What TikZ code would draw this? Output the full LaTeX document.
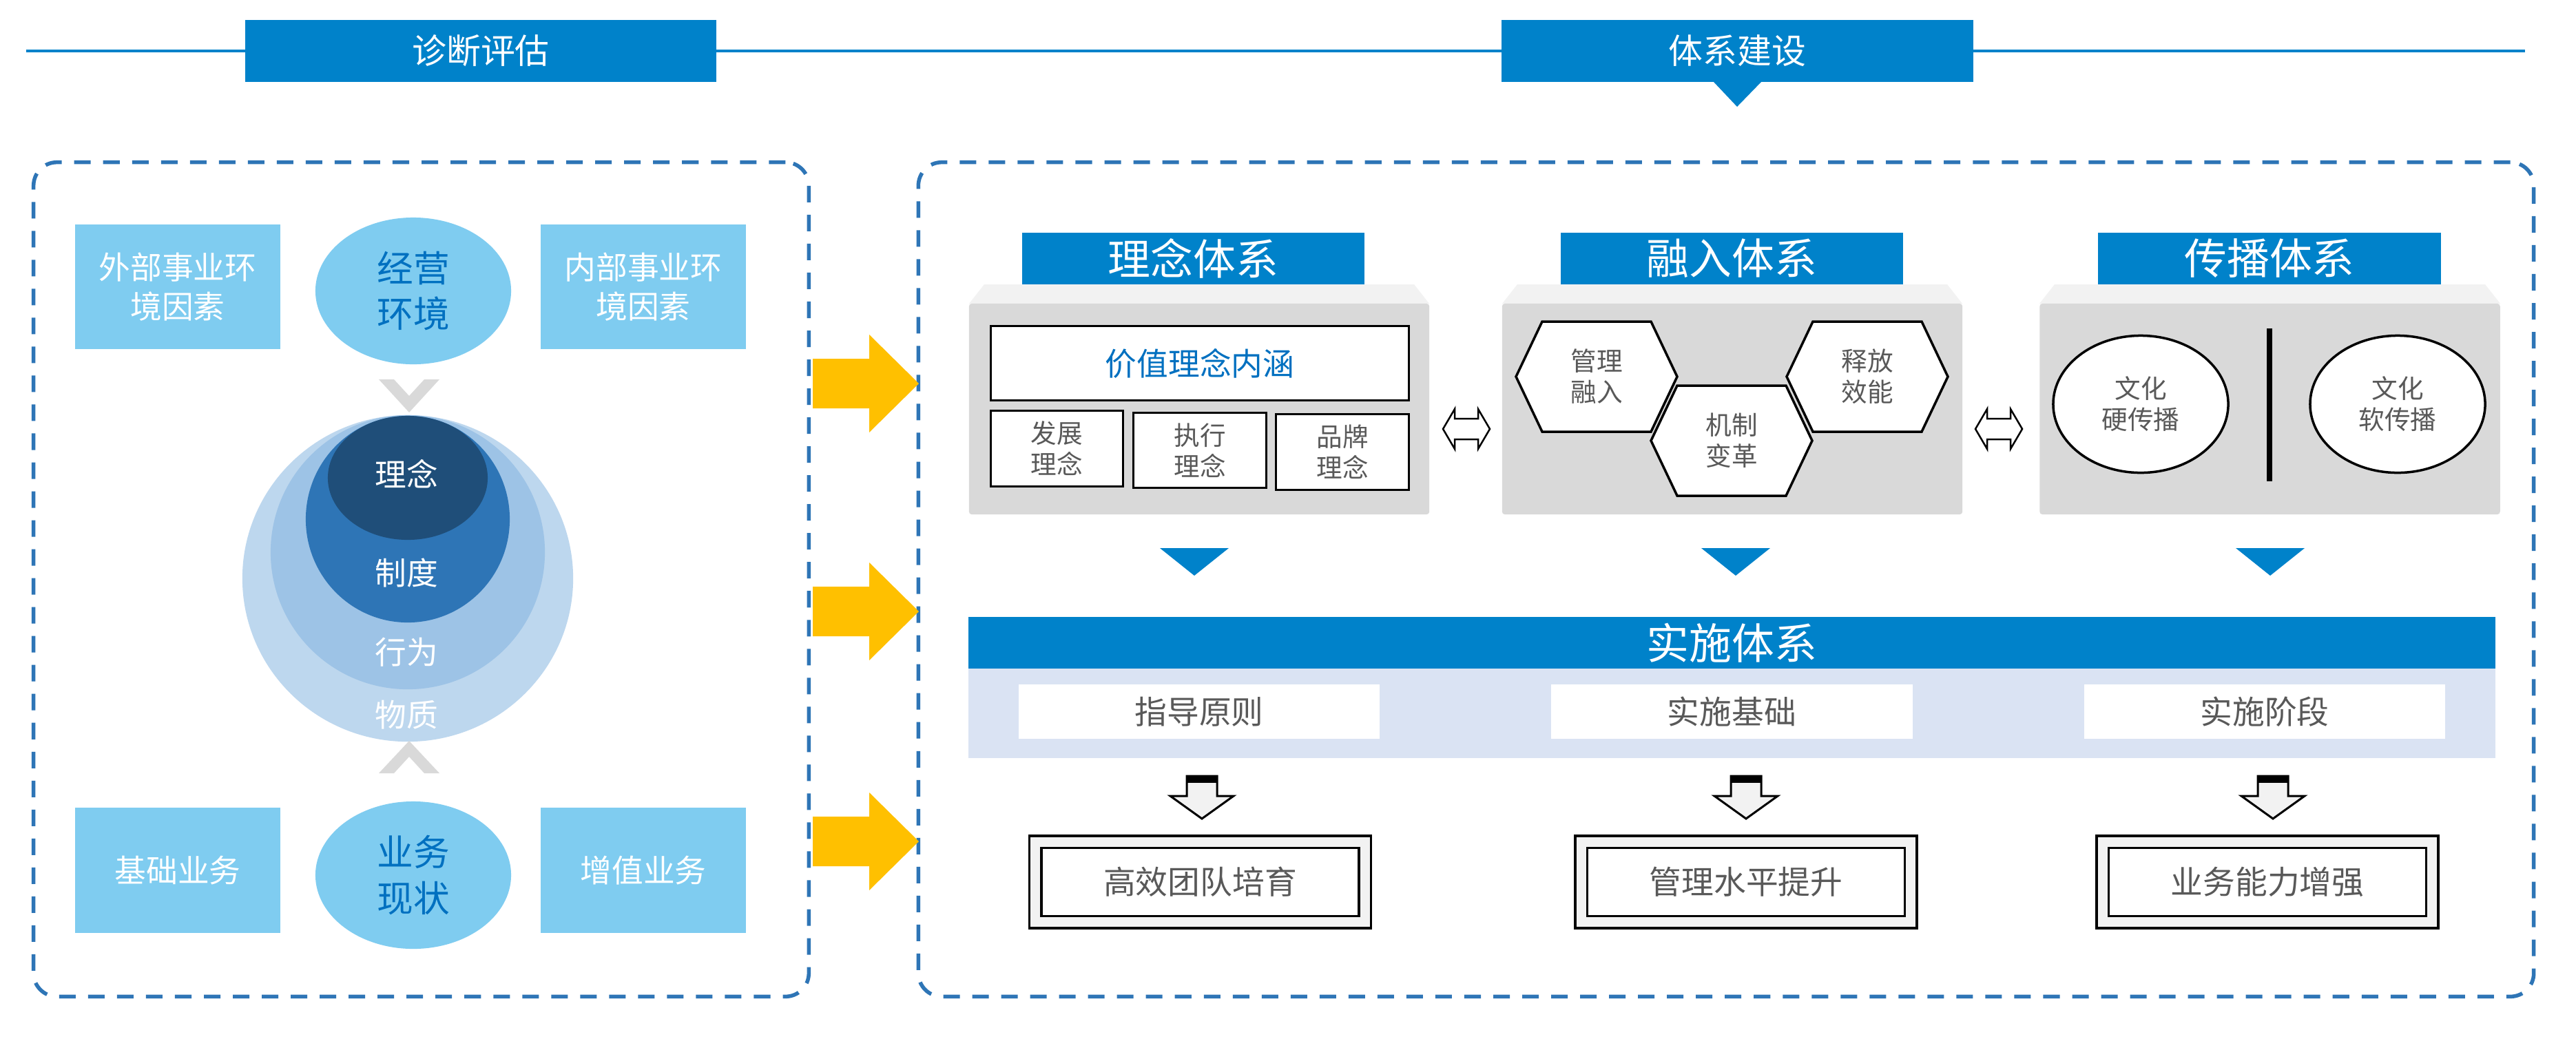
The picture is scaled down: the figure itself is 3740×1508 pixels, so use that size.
\documentclass[tikz,border=0pt]{standalone}
\usepackage{fontspec}
\setmainfont{Noto Sans CJK SC}
\usetikzlibrary{shapes.geometric}
\definecolor{hdrblue}{RGB}{0,130,202}
\definecolor{boxblue}{RGB}{127,204,240}
\definecolor{txtblue}{RGB}{0,112,192}
\definecolor{dashblue}{RGB}{46,117,182}
\definecolor{ringa}{RGB}{189,215,238}
\definecolor{ringb}{RGB}{157,195,230}
\definecolor{ringc}{RGB}{46,117,182}
\definecolor{ringd}{RGB}{31,78,121}
\definecolor{chevgray}{RGB}{217,217,217}
\definecolor{arrowyellow}{RGB}{255,192,0}
\definecolor{panelgray}{RGB}{217,217,217}
\definecolor{bevelgray}{RGB}{242,242,242}
\definecolor{barpale}{RGB}{218,227,243}
\definecolor{txtgray}{RGB}{89,89,89}

\begin{document}
\begin{tikzpicture}[x=0.01cm,y=-0.01cm,
	topbox/.style={fill=hdrblue,text=white,minimum width=6.84cm,minimum height=0.9cm,inner sep=0pt,font=\fontsize{14.2}{17}\selectfont},
	dashbox/.style={draw=dashblue,line width=0.055cm,dash pattern=on 0.24cm off 0.18cm,rounded corners=0.34cm,minimum height=12.11cm,inner sep=0pt},
	envbox/.style={fill=boxblue,text=white,minimum width=2.98cm,minimum height=1.81cm,align=center,inner sep=0pt,font=\fontsize{13}{16.2}\selectfont},
	envell/.style={ellipse,fill=boxblue,text=txtblue,minimum width=2.84cm,minimum height=2.13cm,align=center,inner sep=0pt,font=\fontsize{15}{18.8}\selectfont},
	ring/.style={ellipse,inner sep=0pt},
	ringtxt/.style={text=white,font=\fontsize{13}{16}\selectfont},
	chev/.style={fill=chevgray},
	goarrow/.style={fill=arrowyellow},
	syshead/.style={fill=hdrblue,text=white,minimum width=4.97cm,minimum height=0.75cm,inner sep=0pt,font=\fontsize{17.6}{20}\selectfont},
	bevel/.style={fill=bevelgray},
	panel/.style={fill=panelgray,minimum width=6.68cm,minimum height=3.06cm,rounded corners=0.04cm,inner sep=0pt},
	linebox/.style={draw,fill=white,line width=0.03cm,align=center,inner sep=0pt,text=txtgray,font=\fontsize{10.7}{12.8}\selectfont},
	hexline/.style={draw,fill=white,line width=0.035cm},
	smalltxt/.style={text=txtgray,align=center,font=\fontsize{10.7}{12.8}\selectfont},
	bothway/.style={draw,fill=white,line width=0.025cm},
	downtri/.style={fill=hdrblue},
	stepbar/.style={fill=hdrblue,text=white,minimum width=22.15cm,minimum height=0.75cm,inner sep=0pt,font=\fontsize{17.6}{20}\selectfont},
	palebar/.style={fill=barpale,minimum width=22.15cm,minimum height=1.3cm,inner sep=0pt},
	stagebox/.style={fill=white,text=txtgray,minimum width=5.24cm,minimum height=0.79cm,inner sep=0pt,font=\fontsize{13.3}{16}\selectfont},
	blockarrow/.style={draw,fill=bevelgray,line width=0.03cm},
	goalbox/.style={draw,double=bevelgray,double distance=0.14cm,line width=0.035cm,fill=white,minimum width=4.78cm,minimum height=1.165cm,inner sep=0pt,text=txtgray,font=\fontsize{13.3}{16}\selectfont}]
\useasboundingbox (0,0) rectangle (3740,1508);
\fill[white] (0,0) rectangle (3740,1508);

\coordinate (lineleft) at (38,74);
\coordinate (lineright) at (3666,74);
\draw[hdrblue,line width=0.04cm] (lineleft) -- (lineright);
\node[topbox] (diagh) at (698,74) {诊断评估};
\node[topbox] (buildh) at (2522.5,74) {体系建设};
\fill[downtri] (2488,119) -- (2557,119) -- (2522,155) -- cycle;

\node[dashbox,minimum width=11.25cm] (diag) at (611.5,841.5) {};
\node[dashbox,minimum width=23.44cm] (sys) at (2506,841.5) {};

\node[envbox] (outer) at (258,416.5) {外部事业环\\境因素};
\node[envell] (env) at (600,422.5) {经营\\环境};
\node[envbox] (inner) at (934,416.5) {内部事业环\\境因素};
\fill[chev] (550,551) -- (572,551) -- (594,575) -- (616,551) -- (638,551) -- (594,599) -- cycle;
\node[ring,fill=ringa,minimum width=4.8cm,minimum height=4.74cm] (matter) at (592,840) {};
\node[ring,fill=ringb,minimum width=3.98cm,minimum height=3.98cm] (act) at (592,802) {};
\node[ring,fill=ringc,minimum width=2.96cm,minimum height=3cm] (rule) at (592,754) {};
\node[ring,fill=ringd,minimum width=2.32cm,minimum height=1.8cm] (core) at (592,694) {};
\node[ringtxt] (corel) at (590,688) {理念};
\node[ringtxt] (rulel) at (590,832) {制度};
\node[ringtxt] (actl) at (590,947) {行为};
\node[ringtxt] (matterl) at (590,1038) {物质};
\fill[chev] (594,1076) -- (638,1123) -- (616,1123) -- (594,1099) -- (572,1123) -- (550,1123) -- cycle;
\node[envbox,minimum height=1.82cm] (basic) at (258,1264) {基础业务};
\node[envell,minimum height=2.14cm] (biz) at (600,1271) {业务\\现状};
\node[envbox,minimum height=1.82cm] (added) at (934,1264) {增值业务};

\fill[goarrow,shift={(0,557)}] (1180,-36) -- (1262,-36) -- (1262,-71) -- (1334,0) -- (1262,71) -- (1262,36) -- (1180,36) -- cycle;
\fill[goarrow,shift={(0,888)}] (1180,-36) -- (1262,-36) -- (1262,-71) -- (1334,0) -- (1262,71) -- (1262,36) -- (1180,36) -- cycle;
\fill[goarrow,shift={(0,1222)}] (1180,-36) -- (1262,-36) -- (1262,-71) -- (1334,0) -- (1262,71) -- (1262,36) -- (1180,36) -- cycle;

\node[syshead] (ideah) at (1732.5,375.5) {理念体系};
\node[syshead] (fuseh) at (2514.5,375.5) {融入体系};
\node[syshead] (spreadh) at (3295,375.5) {传播体系};
\fill[bevel] (1429,413) -- (2053,413) -- (2075,441) -- (1407,441) -- cycle;
\fill[bevel] (2203,413) -- (2827,413) -- (2849,441) -- (2181,441) -- cycle;
\fill[bevel] (2983,413) -- (3608,413) -- (3630,441) -- (2961,441) -- cycle;
\node[panel] (ideap) at (1741,594) {};
\node[panel] (fusep) at (2515,594) {};
\node[panel] (spreadp) at (3295.5,594) {};

\node[linebox,text=txtblue,minimum width=6.06cm,minimum height=1.07cm,font=\fontsize{13}{16}\selectfont] (value) at (1742,527.5) {价值理念内涵};
\node[linebox,minimum width=1.91cm,minimum height=1.09cm] (dev) at (1534.5,651.5) {发展\\理念};
\node[linebox,minimum width=1.92cm,minimum height=1.09cm] (exe) at (1742,654) {执行\\理念};
\node[linebox,minimum width=1.92cm,minimum height=1.09cm] (brand) at (1949,656.5) {品牌\\理念};

\draw[hexline] (2201,547) -- (2239,467) -- (2397,467) -- (2435,547) -- (2397,627) -- (2239,627) -- cycle;
\node[smalltxt] (manage) at (2318,547) {管理\\融入};
\draw[hexline] (2594,547) -- (2632,467) -- (2790,467) -- (2828,547) -- (2790,627) -- (2632,627) -- cycle;
\node[smalltxt] (release) at (2711,547) {释放\\效能};
\draw[hexline] (2397,640) -- (2435,560) -- (2593,560) -- (2631,640) -- (2593,720) -- (2435,720) -- cycle;
\node[smalltxt] (reform) at (2514,640) {机制\\变革};

\node[ellipse,linebox,line width=0.035cm,minimum width=2.54cm,minimum height=1.99cm] (hard) at (3108,587) {文化\\硬传播};
\node[ellipse,linebox,line width=0.035cm,minimum width=2.54cm,minimum height=1.99cm] (soft) at (3481,587) {文化\\软传播};
\coordinate (divtop) at (3295,477);
\coordinate (divbot) at (3295,699);
\draw[line width=0.08cm] (divtop) -- (divbot);

\draw[bothway,shift={(2129,623)}] (-34,0) -- (-17,-29) -- (-17,-15) -- (17,-15) -- (17,-29) -- (34,0) -- (17,29) -- (17,15) -- (-17,15) -- (-17,29) -- cycle;
\draw[bothway,shift={(2902,623)}] (-34,0) -- (-17,-29) -- (-17,-15) -- (17,-15) -- (17,-29) -- (34,0) -- (17,29) -- (17,15) -- (-17,15) -- (-17,29) -- cycle;

\fill[downtri] (1684,796) -- (1784,796) -- (1734,836) -- cycle;
\fill[downtri] (2470,796) -- (2570,796) -- (2520,836) -- cycle;
\fill[downtri] (3246,796) -- (3346,796) -- (3296,836) -- cycle;

\node[stepbar] (impl) at (2514.5,933.5) {实施体系};
\node[palebar] (implpale) at (2514.5,1036) {};
\node[stagebox] (guide) at (1741,1033.5) {指导原则};
\node[stagebox] (base) at (2514.5,1033.5) {实施基础};
\node[stagebox] (phase) at (3288,1033.5) {实施阶段};

\draw[blockarrow,shift={(1745,0)}] (-22,1127) -- (22,1127) -- (22,1156) -- (46,1156) -- (0,1189) -- (-46,1156) -- (-22,1156) -- cycle;
\fill[shift={(1745,0)}] (-22,1127) rectangle (22,1137);
\draw[blockarrow,shift={(2535,0)}] (-22,1127) -- (22,1127) -- (22,1156) -- (46,1156) -- (0,1189) -- (-46,1156) -- (-22,1156) -- cycle;
\fill[shift={(2535,0)}] (-22,1127) rectangle (22,1137);
\draw[blockarrow,shift={(3300,0)}] (-22,1127) -- (22,1127) -- (22,1156) -- (46,1156) -- (0,1189) -- (-46,1156) -- (-22,1156) -- cycle;
\fill[shift={(3300,0)}] (-22,1127) rectangle (22,1137);

\node[goalbox] (team) at (1742.5,1281) {高效团队培育};
\node[goalbox] (level) at (2535,1281) {管理水平提升};
\node[goalbox] (ability) at (3292,1281) {业务能力增强};
\end{tikzpicture}
\end{document}
